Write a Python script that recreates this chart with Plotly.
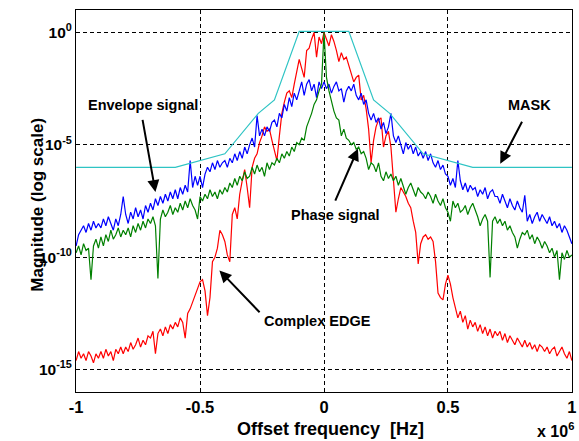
import plotly.graph_objects as go

# Offset frequency in units of 1e6 Hz
freq_mhz = [i / 100 for i in range(-100, 101)]

# log10 magnitudes
envelope_log10 = [
    -9.5, -9.0, -8.8, -8.6, -8.9, -8.5, -8.8, -8.4, -8.7, -8.5,
    -8.7, -8.3, -8.6, -8.2, -8.5, -8.8, -8.3, -8.6, -8.1, -7.3,
    -8.1, -8.5, -8.0, -8.3, -7.8, -8.2, -7.9, -8.3, -7.7, -8.0,
    -7.6, -7.9, -7.4, -7.7, -7.3, -7.6, -7.2, -7.5, -7.1, -7.4,
    -7.0, -7.4, -6.9, -7.2, -6.8, -7.1, -5.7, -6.9, -6.4, -6.8,
    -6.4, -6.9, -6.3, -6.0, -6.2, -5.8, -6.1, -5.7, -6.0, -5.8,
    -5.7, -6.0, -5.6, -5.8, -5.4, -5.7, -5.3, -5.6, -5.1, -5.4,
    -5.0, -4.7, -5.1, -3.7, -4.6, -4.3, -4.6, -4.2, -4.4, -4.0,
    -3.9, -4.2, -3.6, -3.8, -3.2, -3.5, -2.9, -3.3, -2.7, -3.0,
    -2.6, -2.2, -2.8, -2.3, -2.1, -2.6, -2.3, -2.9, -2.2, -2.5,
    -2.2, -2.5, -2.3, -2.7, -2.4, -2.2, -2.6, -2.5, -3.1, -2.6,
    -2.4, -2.6, -2.3, -2.8, -3.0, -2.7, -3.2, -3.0, -3.6, -3.9,
    -3.6, -4.0, -3.8, -4.3, -4.0, -4.5, -4.2, -3.6, -4.6, -4.9,
    -4.6, -5.0, -5.4, -4.9, -5.2, -5.0, -5.4, -5.1, -5.5, -5.3,
    -5.6, -5.3, -5.7, -5.4, -5.8, -6.0, -5.7, -6.1, -5.9, -6.3,
    -6.4, -6.8, -6.5, -6.9, -5.7, -6.6, -7.0, -6.7, -7.1, -6.8,
    -7.0, -6.9, -7.3, -7.0, -7.2, -6.9, -7.4, -7.1, -7.0, -7.3,
    -7.3, -7.6, -7.2, -7.5, -7.8, -7.4, -7.7, -7.9, -7.5, -7.8,
    -8.0, -7.25, -8.4, -8.1, -8.5, -8.2, -8.0, -8.4, -8.1, -8.3,
    -8.5, -8.2, -8.6, -8.4, -8.7, -8.5, -8.9, -8.6, -8.8, -9.1, -9.4,
]

phase_log10 = [
    -9.8, -9.5, -9.9, -9.4, -9.7, -9.6, -11.0, -9.5, -9.2, -9.6,
    -9.1, -9.5, -9.0, -9.3, -8.8, -9.2, -9.0, -8.7, -9.1, -8.8,
    -9.0, -8.7, -9.1, -8.6, -8.9, -8.5, -8.8, -8.4, -8.7, -8.3,
    -8.5, -8.2, -8.6, -10.95, -8.3, -7.9, -8.2, -8.0, -7.7, -8.1,
    -7.8, -8.0, -7.6, -7.9, -7.5, -7.8, -7.4, -7.7, -7.9, -8.3,
    -7.3, -7.5, -7.2, -7.4, -7.0, -7.3, -7.1, -7.4, -7.0, -7.2,
    -6.9, -7.1, -6.7, -6.9, -6.5, -6.8, -6.4, -6.6, -6.2, -6.5,
    -6.4, -6.0, -6.3, -5.9, -6.2, -6.0, -6.4, -5.8, -6.1, -5.8,
    -5.9, -5.6, -5.8, -5.4, -5.6, -5.3, -5.5, -5.1, -5.3, -4.9,
    -5.0, -4.7, -4.8, -4.2, -3.9, -3.6, -3.2, -3.0, -2.6, -2.3,
    0.0, -2.0, -2.6, -3.1, -3.5, -3.8, -3.9, -4.6, -4.3, -4.7,
    -4.8, -5.0, -4.9, -5.2, -5.1, -5.4, -5.3, -5.6, -6.1, -5.8,
    -5.9, -6.2, -5.8, -6.4, -6.6, -6.2, -6.5, -6.3, -6.6, -6.4,
    -6.8, -6.5, -6.9, -7.2, -6.9, -6.7, -7.0, -7.3, -6.9, -7.1,
    -7.2, -7.4, -7.1, -7.3, -7.6, -7.2, -7.5, -7.7, -7.4, -7.8,
    -8.0, -8.4, -7.5, -7.8, -7.6, -8.0, -7.9, -7.7, -8.1, -7.8,
    -7.6, -7.9, -8.2, -8.6, -8.3, -8.1, -8.4, -10.9, -8.4, -8.2,
    -8.5, -8.3, -8.6, -8.4, -8.8, -8.6, -8.9, -9.1, -9.6, -9.2,
    -8.9, -9.0, -8.8, -9.2, -9.0, -9.4, -9.1, -9.3, -9.6, -9.3,
    -9.5, -9.8, -9.6, -10.0, -9.7, -11.0, -9.8, -10.1, -9.7, -10.0, -9.9,
]

edge_log10 = [
    -14.6, -14.2, -14.5, -14.3, -14.6, -14.2, -14.4, -14.7, -14.3, -14.5,
    -14.2, -14.5, -14.1, -14.4, -14.2, -14.6, -14.1, -14.3, -14.0, -14.3,
    -14.0, -14.2, -13.8, -14.1, -13.9, -13.6, -14.0, -13.7, -13.9, -13.5,
    -13.6, -13.3, -14.3, -13.4, -13.2, -13.5, -13.1, -13.4, -13.0, -13.2,
    -12.9, -13.1, -12.7, -12.9, -13.6, -12.5, -12.3, -12.0, -11.7, -11.4,
    -11.1, -11.0, -11.5, -12.6, -11.8, -10.2, -10.0, -9.6, -8.8, -9.0,
    -9.3, -9.9, -10.2, -8.1, -7.8, -8.3, -7.2, -6.6, -6.1, -6.9,
    -7.8, -6.0, -5.6, -5.4, -4.9, -4.6, -4.2, -4.4, -4.3, -4.8,
    -5.2, -5.7, -4.6, -3.6, -3.1, -2.7, -2.6, -2.9, -2.3, -1.8,
    -1.2, -1.6, -2.0, -0.8, -0.7, -0.3, 0.0, -1.1, -0.2, -0.5,
    0.0, -0.3, -0.6, -0.1, -0.4, -0.8, -1.3, -0.9, -1.2, -1.1,
    -1.5, -1.8, -2.2, -2.0, -1.9, -3.0, -2.8, -3.4, -4.3, -5.8,
    -4.8, -4.2, -3.9, -3.8, -5.1, -4.6, -4.4, -5.1, -6.4, -8.0,
    -7.4, -6.9, -7.1, -7.3, -7.6, -7.8, -8.4, -8.9, -10.3, -9.4,
    -9.1, -9.0, -9.2, -9.1, -9.3, -10.2, -11.6, -11.8, -11.9, -11.2,
    -10.8, -11.2, -11.8, -12.3, -12.7, -12.4, -12.9, -12.6, -13.2, -12.8,
    -13.1, -12.9, -13.3, -13.0, -13.4, -13.1, -13.5, -13.2, -13.6, -13.3,
    -13.5, -13.3, -13.7, -13.4, -13.8, -13.5, -13.7, -13.9, -13.6, -13.8,
    -14.0, -13.7, -14.0, -13.8, -14.1, -13.9, -14.2, -13.9, -14.0, -14.2,
    -14.0, -14.3, -14.1, -14.0, -14.4, -14.2, -14.0, -14.3, -14.5, -14.2, -14.6,
]

mask_freq_mhz = [-1.0, -0.6, -0.4, -0.265, -0.2, -0.1, 0.1, 0.2, 0.265, 0.4, 0.6, 1.0]
mask_log10 = [-6.0, -6.0, -5.4, -3.6, -3.0, 0.05, 0.05, -3.0, -3.6, -5.4, -6.0, -6.0]

y_tick_exps = [0, -5, -10, -15]
x_tick_vals = [-1, -0.5, 0, 0.5, 1]
x_tick_text = ["-1", "-0.5", "0", "0.5", "1"]

FONT = "Liberation Sans"


def mag(vals):
    return [10 ** v for v in vals]


fig = go.Figure()
fig.add_trace(go.Scatter(x=freq_mhz, y=mag(edge_log10), mode="lines",
                         line=dict(color="#FF0000", width=1.2), name="Complex EDGE"))
fig.add_trace(go.Scatter(x=freq_mhz, y=mag(envelope_log10), mode="lines",
                         line=dict(color="#0000FF", width=1.2), name="Envelope signal"))
fig.add_trace(go.Scatter(x=freq_mhz, y=mag(phase_log10), mode="lines",
                         line=dict(color="#008000", width=1.2), name="Phase signal"))
fig.add_trace(go.Scatter(x=mask_freq_mhz, y=mag(mask_log10), mode="lines",
                         line=dict(color="#2EC4C4", width=1.2), name="MASK"))

labels = [
    ("Envelope signal", -0.731, -3.24, -0.733, -3.82, -0.680, -7.10),
    ("MASK", 0.829, -3.24, 0.802, -3.91, 0.711, -5.84),
    ("Phase signal", 0.047, -8.14, 0.043, -7.55, 0.137, -5.17),
    ("Complex EDGE", -0.025, -12.82, -0.254, -12.52, -0.422, -10.59),
]
for text, tx, ty, ax_, ay_, hx, hy in labels:
    fig.add_annotation(x=tx, y=ty, xref="x", yref="y", text=text, showarrow=False,
                       font=dict(family=FONT, size=14.5, color="black", weight="bold"))
    fig.add_annotation(x=hx, y=hy, xref="x", yref="y", ax=ax_, ay=ay_, axref="x", ayref="y",
                       text="", showarrow=True, arrowhead=2, arrowsize=1.2,
                       arrowwidth=2, arrowcolor="black")

fig.add_annotation(x=0.513, y=-0.097, xref="paper", yref="paper", yanchor="middle",
                   text="Offset frequency&nbsp; [Hz]", showarrow=False,
                   font=dict(family=FONT, size=18, color="black", weight="bold"))
fig.add_annotation(x=-0.1, y=0.49, xref="paper", yref="paper",
                   text="Magnitude (log scale)", textangle=-90, showarrow=False,
                   font=dict(family=FONT, size=17, color="black", weight="bold"))
fig.add_annotation(x=1.008, y=-0.1, xref="paper", yref="paper", xanchor="right", yanchor="middle",
                   text="x 10<sup>6</sup>", showarrow=False,
                   font=dict(family=FONT, size=16, color="black", weight="bold"))

fig.update_layout(
    width=579, height=441,
    margin=dict(l=76, r=7, t=10, b=49),
    paper_bgcolor="white", plot_bgcolor="white",
    showlegend=False,
    font=dict(family=FONT, color="black"),
)
fig.update_xaxes(
    range=[-1.0005, 1.0005], tickvals=x_tick_vals, ticktext=x_tick_text,
    tickfont=dict(family=FONT, size=16.5, color="black", weight="bold"),
    showline=True, linecolor="black", linewidth=1, mirror=True,
    ticks="inside", ticklen=4, tickcolor="black", automargin=False,
    showgrid=True, gridcolor="black", griddash="4px,3px", gridwidth=0.8,
    zeroline=False,
)
fig.update_yaxes(
    type="log", range=[-16, 1],
    tickvals=[10 ** e for e in y_tick_exps],
    ticktext=["10<sup>%d</sup>" % e for e in y_tick_exps],
    tickfont=dict(family=FONT, size=15.5, color="black", weight="bold"),
    showline=True, linecolor="black", linewidth=1, mirror=True,
    ticks="inside", ticklen=4, tickcolor="black", automargin=False,
    showgrid=True, gridcolor="black", griddash="4px,3px", gridwidth=0.8,
    zeroline=False,
)

fig.write_html("out.html", config={"displayModeBar": False},
               post_script="document.body.style.margin='0';document.body.style.overflow='hidden';")
